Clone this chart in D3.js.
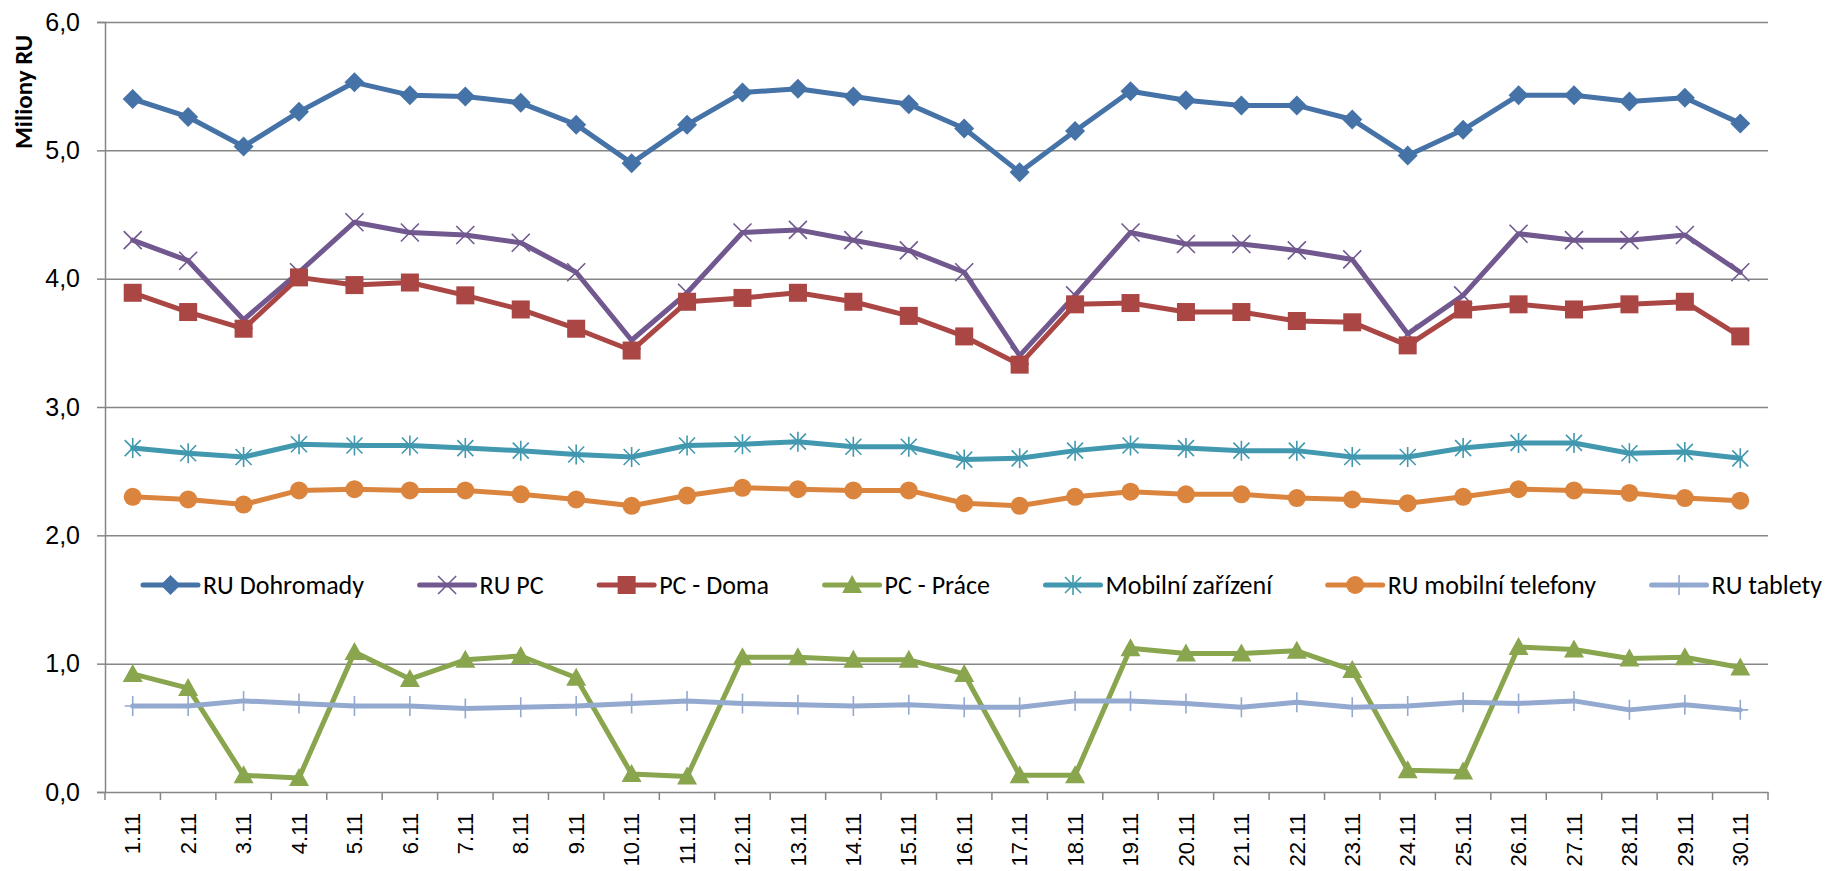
<!DOCTYPE html>
<html>
<head>
<meta charset="utf-8">
<script src="https://cdn.jsdelivr.net/npm/d3@7"></script>
<style>
  body { margin: 0; background: #fff; }
  svg { font-family: Carlito, Calibri, Lato, sans-serif; }
  .grid line { stroke: #868686; stroke-width: 1.5; }
  .grid path { display: none; }
</style>
</head>
<body>
<script>
// dny v listopadu
var days = ["1.11","2.11","3.11","4.11","5.11","6.11","7.11","8.11","9.11","10.11",
  "11.11","12.11","13.11","14.11","15.11","16.11","17.11","18.11","19.11","20.11",
  "21.11","22.11","23.11","24.11","25.11","26.11","27.11","28.11","29.11","30.11"];

// hodnoty v milionech RU
var ruDohromady = [5.40,5.26,5.03,5.30,5.53,5.43,5.42,5.37,5.20,4.90,5.20,5.45,5.48,5.42,5.36,5.17,4.83,5.15,5.46,5.39,5.35,5.35,5.24,4.96,5.16,5.43,5.43,5.38,5.41,5.21];
var ruPC = [4.30,4.14,3.68,4.05,4.44,4.36,4.34,4.28,4.05,3.52,3.89,4.36,4.38,4.30,4.22,4.05,3.40,3.87,4.36,4.27,4.27,4.22,4.15,3.57,3.87,4.35,4.30,4.30,4.34,4.05];
var pcDoma = [3.89,3.74,3.61,4.01,3.95,3.97,3.87,3.76,3.61,3.44,3.82,3.85,3.89,3.82,3.71,3.55,3.33,3.80,3.81,3.74,3.74,3.67,3.66,3.48,3.76,3.80,3.76,3.80,3.82,3.55];
var pcPrace = [0.92,0.81,0.13,0.11,1.09,0.88,1.03,1.06,0.89,0.14,0.12,1.05,1.05,1.03,1.03,0.92,0.13,0.13,1.12,1.08,1.08,1.10,0.95,0.17,0.16,1.13,1.11,1.04,1.05,0.97];
var mobilni = [2.68,2.64,2.61,2.71,2.70,2.70,2.68,2.66,2.63,2.61,2.70,2.71,2.73,2.69,2.69,2.59,2.60,2.66,2.70,2.68,2.66,2.66,2.61,2.61,2.68,2.72,2.72,2.64,2.65,2.60];
var telefony = [2.30,2.28,2.24,2.35,2.36,2.35,2.35,2.32,2.28,2.23,2.31,2.37,2.36,2.35,2.35,2.25,2.23,2.30,2.34,2.32,2.32,2.29,2.28,2.25,2.30,2.36,2.35,2.33,2.29,2.27];
var tablety = [0.67,0.67,0.71,0.69,0.67,0.67,0.65,0.66,0.67,0.69,0.71,0.69,0.68,0.67,0.68,0.66,0.66,0.71,0.71,0.69,0.66,0.70,0.66,0.67,0.70,0.69,0.71,0.64,0.68,0.64];

var yTicks = [0, 1, 2, 3, 4, 5, 6];

var series = [
  {name: "RU Dohromady", values: ruDohromady, color: "#4572A7", marker: "diamond"},
  {name: "RU PC", values: ruPC, color: "#71588F", marker: "x"},
  {name: "PC - Doma", values: pcDoma, color: "#AA4643", marker: "square"},
  {name: "PC - Práce", values: pcPrace, color: "#89A54E", marker: "triangle"},
  {name: "Mobilní zařízení", values: mobilni, color: "#4198AF", marker: "star"},
  {name: "RU mobilní telefony", values: telefony, color: "#DB843D", marker: "circle"},
  {name: "RU tablety", values: tablety, color: "#93A9CF", marker: "plus"}
];

var width = 1826, height = 871;
var margin = {top: 22, right: 58, bottom: 79, left: 105};

var svg = d3.select("body").append("svg")
    .attr("width", width)
    .attr("height", height);

var x = d3.scaleBand()
    .domain(days)
    .range([margin.left, width - margin.right]);
var y = d3.scaleLinear()
    .domain([0, 6])
    .range([height - margin.bottom, margin.top]);

// mrizka
svg.append("g")
    .attr("class", "grid")
    .attr("transform", "translate(" + margin.left + ",0)")
    .call(d3.axisLeft(y).tickValues(yTicks.slice(1))
      .tickSize(-(width - margin.right - margin.left)).tickFormat(""));

// osa y
var yAxis = svg.append("g")
    .attr("transform", "translate(" + margin.left + ",0)")
    .call(d3.axisLeft(y).tickValues(yTicks).tickSize(8).tickPadding(17)
      .tickFormat(function(d) { return d3.format(".1f")(d).replace(".", ","); }));
yAxis.selectAll("line, path").attr("stroke", "#868686").attr("stroke-width", 1.5);
yAxis.selectAll("text").attr("font-size", 25).attr("fill", "#000");

// osa x
var xAxis = svg.append("g")
    .attr("transform", "translate(0," + y(0) + ")")
    .call(d3.axisBottom(x).tickSize(0).tickPadding(21));
xAxis.select("path").attr("stroke", "#868686").attr("stroke-width", 1.5);
xAxis.selectAll("text")
    .attr("font-size", 22).attr("fill", "#000")
    .attr("text-anchor", "end")
    .attr("transform", "rotate(-90)")
    .attr("x", -21).attr("y", 0).attr("dy", "0.35em");

// carky mezi dny
var edges = d3.range(days.length + 1).map(function(i) { return x.range()[0] + i * x.step(); });
xAxis.selectAll(".edge")
    .data(edges)
  .enter().append("line")
    .attr("class", "edge")
    .attr("x1", function(d) { return d; }).attr("x2", function(d) { return d; })
    .attr("y1", 0).attr("y2", 8)
    .attr("stroke", "#868686").attr("stroke-width", 1.5);

// popisek osy
svg.append("text")
    .attr("transform", "translate(32,92) rotate(-90)")
    .attr("text-anchor", "middle")
    .attr("font-size", 25)
    .attr("font-weight", "bold")
    .text("Miliony RU");

// znacky
function drawMarker(g, type, color) {
  if (type == "diamond") {
    g.append("path").attr("d", "M0,-10L10,0L0,10L-10,0Z").attr("fill", color);
  } else if (type == "square") {
    g.append("rect").attr("x", -9).attr("y", -9).attr("width", 18).attr("height", 18).attr("fill", color);
  } else if (type == "triangle") {
    g.append("path").attr("d", "M0,-10L10,8L-10,8Z").attr("fill", color);
  } else if (type == "circle") {
    g.append("circle").attr("r", 9).attr("fill", color);
  } else if (type == "x") {
    g.append("path").attr("d", "M-9,-9L9,9M9,-9L-9,9").attr("stroke", color).attr("stroke-width", 1.6);
  } else if (type == "star") {
    g.append("path").attr("d", "M-8,-8L8,8M8,-8L-8,8M0,-10L0,10").attr("stroke", color).attr("stroke-width", 1.6);
  } else if (type == "plus") {
    g.append("path").attr("d", "M0,-10L0,10M-8,0L8,0").attr("stroke", color).attr("stroke-width", 1.6);
  }
}

var line = d3.line()
    .x(function(d, i) { return x(days[i]) + x.bandwidth() / 2; })
    .y(function(d) { return y(d); });

series.forEach(function(s) {
  var g = svg.append("g").attr("class", "series");
  g.append("path")
      .datum(s.values)
      .attr("d", line)
      .attr("fill", "none")
      .attr("stroke", s.color)
      .attr("stroke-width", 5)
      .attr("stroke-linejoin", "round")
      .attr("stroke-linecap", "round");
  g.selectAll(".mark")
      .data(s.values)
    .enter().append("g")
      .attr("class", "mark")
      .attr("transform", function(d, i) {
        return "translate(" + (x(days[i]) + x.bandwidth() / 2) + "," + y(d) + ")";
      })
      .each(function() { drawMarker(d3.select(this), s.marker, s.color); });
});

// legenda
var legend = svg.append("g").attr("class", "legend");
var items = legend.selectAll(".item")
    .data(series)
  .enter().append("g")
    .attr("class", "item");
items.append("line")
    .attr("x1", 0).attr("x2", 55)
    .attr("stroke", function(d) { return d.color; })
    .attr("stroke-width", 5)
    .attr("stroke-linecap", "round");
items.append("g")
    .attr("transform", "translate(27.5,0)")
    .each(function(d) { drawMarker(d3.select(this), d.marker, d.color); });
items.append("text")
    .attr("x", 60)
    .attr("dy", "0.35em")
    .attr("font-size", 26)
    .text(function(d) { return d.name; });

// rozlozit polozky od 143 do 1822
var widths = [];
items.each(function() { widths.push(60 + d3.select(this).select("text").node().getComputedTextLength()); });
var gap = (1822 - 143 - d3.sum(widths)) / (widths.length - 1);
var pos = 143;
items.attr("transform", function(d, i) {
  var t = "translate(" + pos + ",585)";
  pos += widths[i] + gap;
  return t;
});
</script>
</body>
</html>
